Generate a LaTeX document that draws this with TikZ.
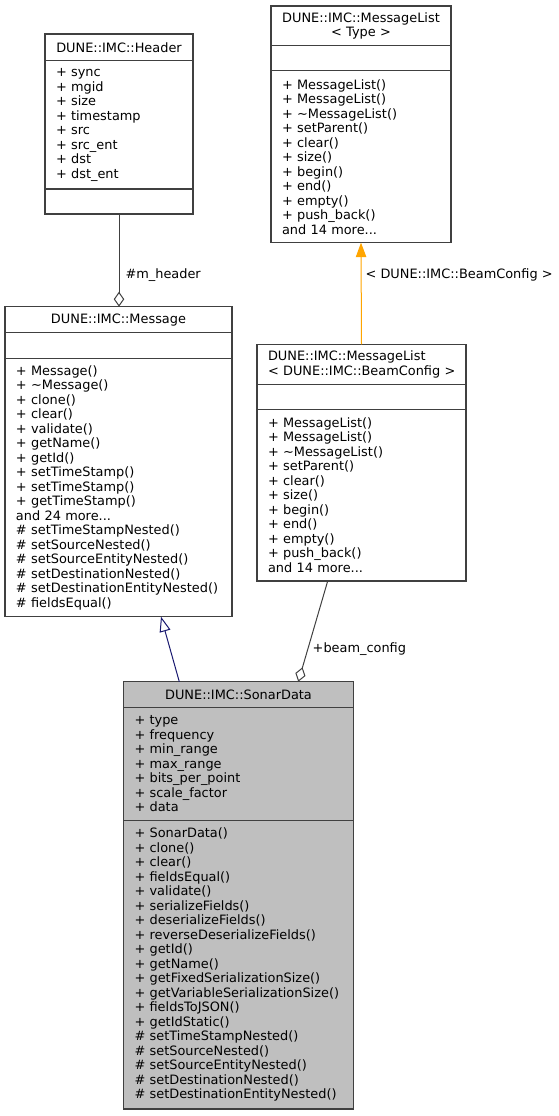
\documentclass[tikz,border=0pt]{standalone}
\usepackage{fontspec}
\setmainfont{DejaVu Sans}
\usetikzlibrary{positioning, arrows.meta}
\usepackage{xcolor}
\definecolor{edgegray}{HTML}{404040}
\definecolor{classgray}{HTML}{BFBFBF}
\definecolor{inheritblue}{HTML}{191970}
\definecolor{tmplorange}{HTML}{FFA500}
\newcommand{\umlfont}{\fontsize{12.9}{14.5}\selectfont}

\begin{document}
\begin{tikzpicture}[x=1pt, y=-1pt,
  box/.style = {draw=edgegray, line width=1.2pt, outer sep=0pt, inner xsep=11pt, inner ysep=0pt, minimum width=#1, text width=#1-22pt, font=\umlfont},
  title/.style = {align=center},
  list/.style = {align=left},
  lbl/.style = {font=\umlfont, text=black, inner sep=0pt},
  edge/.style = {draw=edgegray, line width=1pt}
]
\useasboundingbox (0,0) rectangle (559,1116);

% Header
\node[box=148pt, title, minimum height=26.7pt, anchor=north west] (header_t) at (45,34) {DUNE::IMC::Header};
\node[box=148pt, list, minimum height=128.3pt, below=0pt of header_t] (header_a) {+ sync\\+ mgid\\+ size\\+ timestamp\\+ src\\+ src\_ent\\+ dst\\+ dst\_ent};
\node[box=148pt, minimum height=25pt, below=0pt of header_a] (header_m) {};

% MessageList < Type >
\node[box=180pt, title, minimum height=39.7pt, anchor=north west] (mltype_t) at (271,6) {DUNE::IMC::MessageList\\< Type >};
\node[box=180pt, minimum height=25pt, below=0pt of mltype_t] (mltype_a) {};
\node[box=180pt, list, minimum height=172pt, below=0pt of mltype_a] (mltype_m) {+ MessageList()\\+ MessageList()\\+ \textasciitilde MessageList()\\+ setParent()\\+ clear()\\+ size()\\+ begin()\\+ end()\\+ empty()\\+ push\_back()\\and 14 more...};

% Message
\node[box=227pt, title, minimum height=26pt, anchor=north west] (msg_t) at (5,306.7) {DUNE::IMC::Message};
\node[box=227pt, minimum height=25.6pt, below=0pt of msg_t] (msg_a) {};
\node[box=227pt, list, minimum height=258.4pt, below=0pt of msg_a] (msg_m) {+ Message()\\+ \textasciitilde Message()\\+ clone()\\+ clear()\\+ validate()\\+ getName()\\+ getId()\\+ setTimeStamp()\\+ setTimeStamp()\\+ getTimeStamp()\\and 24 more...\\\# setTimeStampNested()\\\# setSourceNested()\\\# setSourceEntityNested()\\\# setDestinationNested()\\\mbox{\# setDestinationEntityNested()}\\\# fieldsEqual()};

% MessageList < BeamConfig >
\node[box=209pt, list, minimum height=40pt, anchor=north west] (mlbeam_t) at (257,344.3) {DUNE::IMC::MessageList\\\mbox{< DUNE::IMC::BeamConfig >}};
\node[box=209pt, minimum height=25pt, below=0pt of mlbeam_t] (mlbeam_a) {};
\node[box=209pt, list, minimum height=171.7pt, below=0pt of mlbeam_a] (mlbeam_m) {+ MessageList()\\+ MessageList()\\+ \textasciitilde MessageList()\\+ setParent()\\+ clear()\\+ size()\\+ begin()\\+ end()\\+ empty()\\+ push\_back()\\and 14 more...};

% SonarData
\node[box=230pt, title, fill=classgray, minimum height=25.6pt, anchor=north west] (sonar_t) at (123.5,681.7) {DUNE::IMC::SonarData};
\node[box=230pt, list, fill=classgray, minimum height=113.4pt, below=0pt of sonar_t] (sonar_a) {+ type\\+ frequency\\+ min\_range\\+ max\_range\\+ bits\_per\_point\\+ scale\_factor\\+ data};
\node[box=230pt, list, fill=classgray, minimum height=288.3pt, below=0pt of sonar_a] (sonar_m) {+ SonarData()\\+ clone()\\+ clear()\\+ fieldsEqual()\\+ validate()\\+ serializeFields()\\+ deserializeFields()\\+ reverseDeserializeFields()\\+ getId()\\+ getName()\\+ getFixedSerializationSize()\\+ getVariableSerializationSize()\\+ fieldsToJSON()\\+ getIdStatic()\\\# setTimeStampNested()\\\# setSourceNested()\\\# setSourceEntityNested()\\\# setDestinationNested()\\\mbox{\# setDestinationEntityNested()}};

%--- Header -> Message (m_header) ---
\draw[edge, -{Diamond[open, length=15pt, width=10.5pt]}] (header_m.south) -- node[lbl, pos=0.66, right=6pt]{\#m\_header} (header_m.south |- msg_t.north);

%--- MessageList< BeamConfig > -> MessageList< Type > ---
\draw[draw=tmplorange, line width=1pt, -{Triangle[length=14.5pt, width=10.5pt]}] (mlbeam_t.north) -- node[lbl, pos=0.68, right=4pt]{< DUNE::IMC::BeamConfig >} (mltype_m.south);

%--- SonarData -> Message ---
\draw[draw=inheritblue, line width=1pt, -{Triangle[open, length=15pt, width=11pt]}] ([xshift=-59.2pt]sonar_t.north) -- ([xshift=42.5pt]msg_m.south);

%--- MessageList< BeamConfig > -> SonarData (beam_config) ---
\draw[edge, -{Diamond[open, length=15pt, width=10.5pt]}] ([xshift=-33.8pt]mlbeam_m.south) -- node[lbl, pos=0.68, right=4.5pt]{+beam\_config} ([xshift=59.8pt]sonar_t.north);

\end{tikzpicture}
\end{document}
